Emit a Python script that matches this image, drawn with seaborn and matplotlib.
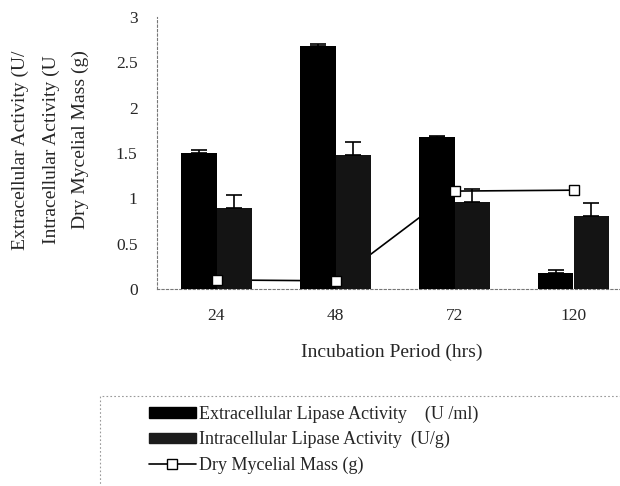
import numpy as np
import pandas as pd
import matplotlib
matplotlib.use("Agg")
import matplotlib.pyplot as plt
import seaborn as sns
from matplotlib.patches import Rectangle, Patch
from matplotlib.lines import Line2D

# ---- data ----
periods = ["24", "48", "72", "120"]
extracellular = [1.50, 2.68, 1.68, 0.18]
extracellular_err = [0.03, 0.02, 0.01, 0.03]
intracellular = [0.89, 1.48, 0.96, 0.81]
intracellular_err = [0.15, 0.14, 0.14, 0.14]
mycelial_mass = [0.10, 0.09, 1.08, 1.09]
series_names = ["Extracellular Lipase Activity    (U /ml)",
                "Intracellular Lipase Activity  (U/g)",
                "Dry Mycelial Mass (g)"]
y_ticks = [0, 0.5, 1, 1.5, 2, 2.5, 3]
y_tick_labels = ["0", "0.5", "1", "1.5", "2", "2.5", "3"]

sns.set_theme(style="white")
plt.rcParams["font.family"] = ["Liberation Serif", "DejaVu Serif"]

W, H = 620, 486
fig = plt.figure(figsize=(W / 100, H / 100), dpi=100)
ax = fig.add_axes([157 / W, 1 - 289 / H, (W - 157) / W, (289 - 17) / H])

df = pd.DataFrame({
    "period": periods * 2,
    "value": extracellular + intracellular,
    "series": ["ext"] * 4 + ["int"] * 4,
})
sns.barplot(data=df, x="period", y="value", hue="series", order=periods,
            hue_order=["ext", "int"], palette=["#000000", "#141414"],
            width=0.6, errorbar=None, legend=False, ax=ax, zorder=3,
            edgecolor="none")

# one-sided error bars on bars
bars = ax.patches
ext_bars = bars[:4]
int_bars = bars[4:8]
for group, vals, errs in [(ext_bars, extracellular, extracellular_err),
                          (int_bars, intracellular, intracellular_err)]:
    xs = [b.get_x() + b.get_width() / 2 for b in group]
    ax.errorbar(xs, vals, yerr=[np.zeros(4), errs], fmt="none",
                ecolor="black", elinewidth=1.2, capsize=5.5, capthick=1.2,
                zorder=4)

# dry mycelial mass line (behind bars) and markers (on top)
xpos = np.arange(len(periods))
sns.lineplot(x=xpos, y=mycelial_mass, color="black", linewidth=1.2,
             ax=ax, zorder=2)
ax.plot(xpos, mycelial_mass, linestyle="none", marker="s", markersize=7,
        markerfacecolor="white", markeredgecolor="black",
        markeredgewidth=1.0, zorder=5)

ax.set_xlim(-0.5, -0.5 + (W - 157) / 119)
ax.set_ylim(0, 3)
ax.set_yticks(y_ticks)
ax.set_yticklabels(y_tick_labels, fontsize=12.5)
ax.set_xticks(xpos)
ax.set_xticklabels(periods, fontsize=12.5)
ax.set_xticks([0.5, 1.5, 2.5], minor=True)
ax.tick_params(axis="x", which="major", length=0, pad=14)
ax.tick_params(axis="x", which="minor", length=6, direction="inout",
               color="#888888", width=0.8)
ax.tick_params(axis="y", which="major", length=4, direction="inout",
               color="#888888", width=0.8, pad=12)
ax.set_xlabel("")
ax.set_ylabel("")
for s in ["top", "right"]:
    ax.spines[s].set_visible(False)
for s in ["left", "bottom"]:
    ax.spines[s].set_linestyle((0, (2, 2)))
    ax.spines[s].set_color("#777777")
    ax.spines[s].set_linewidth(0.8)

fig.text(392 / W, 1 - 352 / H, "Incubation Period (hrs)", ha="center",
         va="center", fontsize=14)

ylab_lines = ["Extracellular Activity (U/", "Intracellular Activity (U",
              "Dry Mycelial Mass (g)"]
for xp, yc, txt in zip([20, 51, 80], [150, 150, 140], ylab_lines):
    fig.text(xp / W, 1 - yc / H, txt, rotation=90, ha="center",
             va="center", fontsize=14)

# legend box (dotted frame, partly off canvas)
fig.patches.append(Rectangle((100 / W, -0.1), 1.0, 1 - 396 / H + 0.1,
                             transform=fig.transFigure, fill=False,
                             edgecolor="#999999", linewidth=0.8,
                             linestyle=(0, (1.5, 2))))
handles = [Patch(facecolor="black", edgecolor="black"),
           Patch(facecolor="#1c1c1c", edgecolor="#1c1c1c", hatch="....."),
           Line2D([0], [0], color="black", linewidth=1.2, marker="s",
                  markersize=7, markerfacecolor="white",
                  markeredgecolor="black")]
fig.legend(handles, series_names, loc="upper left",
           bbox_to_anchor=(136 / W, 1 - 393 / H), frameon=False,
           fontsize=13, handlelength=2.6, handleheight=0.5,
           handletextpad=0.2, labelspacing=0.45, borderpad=0.2)

fig.savefig("out.png", dpi=100)
